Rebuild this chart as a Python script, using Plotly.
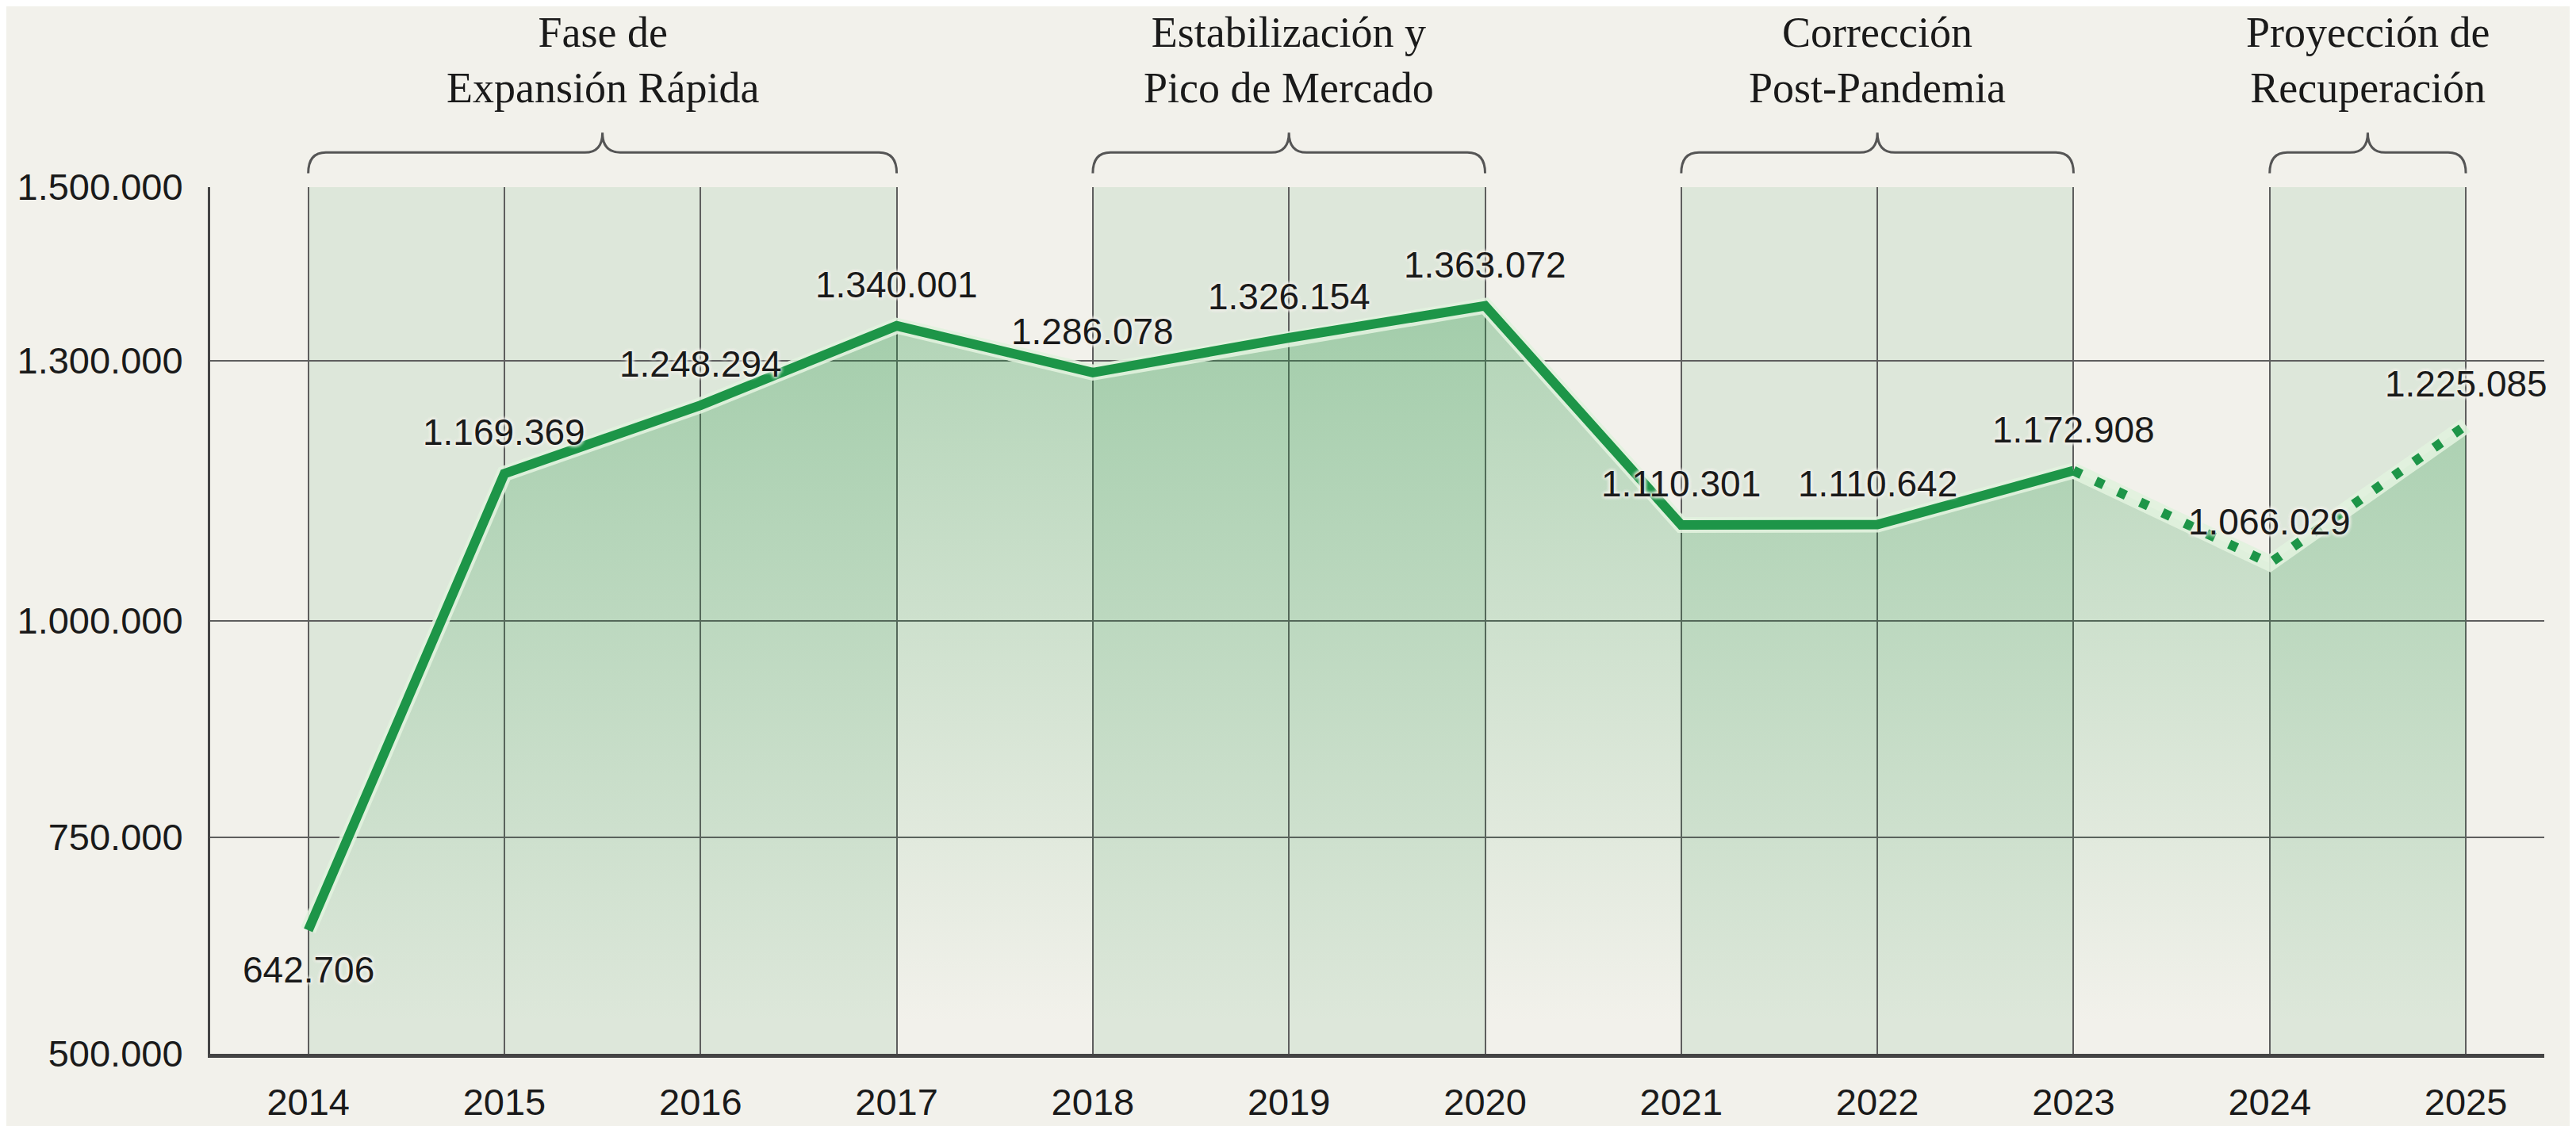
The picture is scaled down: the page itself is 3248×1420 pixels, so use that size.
import plotly.graph_objects as go

# values
years = [2014, 2015, 2016, 2017, 2018, 2019, 2020, 2021, 2022, 2023, 2024, 2025]
values = [642706, 1169369, 1248294, 1340001, 1286078, 1326154, 1363072,
          1110301, 1110642, 1172908, 1066029, 1225085]
last_actual = 2023  # after this the line is a projection (dotted)

phase_names = ["Fase de<br>Expansión Rápida", "Estabilización y<br>Pico de Mercado",
               "Corrección<br>Post-Pandemia", "Proyección de<br>Recuperación"]
phase_start = [2014, 2018, 2021, 2024]
phase_end = [2017, 2020, 2023, 2025]

y_ticks = [500000, 750000, 1000000, 1300000, 1500000]

BG = "#F2F1EB"
BAND = "#DDE7DA"
GREEN = "#1D9548"
GRID = "#5E5E5E"
INK = "#1A1A1A"
SANS = "Liberation Sans, Arial, sans-serif"
SERIF = "Liberation Serif, Times New Roman, serif"


def fmt(v):
    return f"{v:,}".replace(",", ".")


def brace(x0, x1, y_end=1.016, y_bar=1.040, y_tip=1.063, r=0.09):
    xm = (x0 + x1) / 2
    return (f"M {x0},{y_end} Q {x0},{y_bar} {x0 + r},{y_bar} L {xm - r},{y_bar} "
            f"Q {xm},{y_bar} {xm},{y_tip} Q {xm},{y_bar} {xm + r},{y_bar} "
            f"L {x1 - r},{y_bar} Q {x1},{y_bar} {x1},{y_end}")


fig = go.Figure()

# area under the whole series, fading towards the bottom
fig.add_trace(go.Scatter(
    x=years, y=values, mode="none", fill="tozeroy",
    fillgradient=dict(type="vertical", start=560000, stop=max(values),
                      colorscale=[[0, "rgba(40,150,70,0)"], [1, "rgba(40,150,70,0.32)"]]),
    hoverinfo="skip", showlegend=False,
))

split = years.index(last_actual) + 1
actual_x, actual_y = years[:split], values[:split]
proj_x, proj_y = years[split - 1:], values[split - 1:]

# soft halo under the lines
for xs, ys in [(actual_x, actual_y), (proj_x, proj_y)]:
    fig.add_trace(go.Scatter(
        x=xs, y=ys, mode="lines", line=dict(color="rgba(225,242,222,0.9)", width=20),
        hoverinfo="skip", showlegend=False,
    ))

fig.add_trace(go.Scatter(
    x=actual_x, y=actual_y, mode="lines",
    line=dict(color=GREEN, width=12), showlegend=False,
))
fig.add_trace(go.Scatter(
    x=proj_x, y=proj_y, mode="lines",
    line=dict(color=GREEN, width=12, dash="11px,20px"), showlegend=False,
))

# phase bands, braces and titles
for name, x0, x1 in zip(phase_names, phase_start, phase_end):
    fig.add_shape(type="rect", xref="x", yref="y", x0=x0, x1=x1,
                  y0=y_ticks[0], y1=y_ticks[-1], fillcolor=BAND,
                  line=dict(width=0), layer="below")
    fig.add_shape(type="path", xref="x", yref="paper", path=brace(x0, x1),
                  line=dict(color="#555555", width=3))
    fig.add_annotation(x=(x0 + x1) / 2, y=1.146, xref="x", yref="paper",
                       text=name, showarrow=False, yanchor="middle",
                       font=dict(family=SERIF, size=54, color=INK))

# value labels
halo = ", ".join(["0px 0px 5px " + BG] * 4)
for i, (x, v) in enumerate(zip(years, values)):
    fig.add_annotation(x=x, y=v, text=fmt(v), showarrow=False,
                       yshift=-50 if i == 0 else 52,
                       font=dict(family=SANS, size=46, color=INK, shadow=halo))

fig.update_layout(
    width=3248, height=1420,
    margin=dict(l=257, r=48, t=228, b=70),
    paper_bgcolor=BG, plot_bgcolor="rgba(0,0,0,0)",
    separators=",.",
    font=dict(family=SANS, color=INK),
    xaxis=dict(range=[2013.5, 2025.4], tickvals=years, showgrid=True,
               gridcolor=GRID, gridwidth=2, zeroline=False,
               showline=True, linecolor="#444444", linewidth=5,
               ticks="", ticklabelstandoff=16, tickfont=dict(size=47)),
    yaxis=dict(range=[y_ticks[0], y_ticks[-1]], tickvals=y_ticks, tickformat=",d",
               showgrid=True, gridcolor=GRID, gridwidth=2, zeroline=False,
               showline=True, linecolor="#444444", linewidth=3,
               ticks="", ticklabelstandoff=22, tickfont=dict(size=47)),
)

fig.write_html("out.html")
